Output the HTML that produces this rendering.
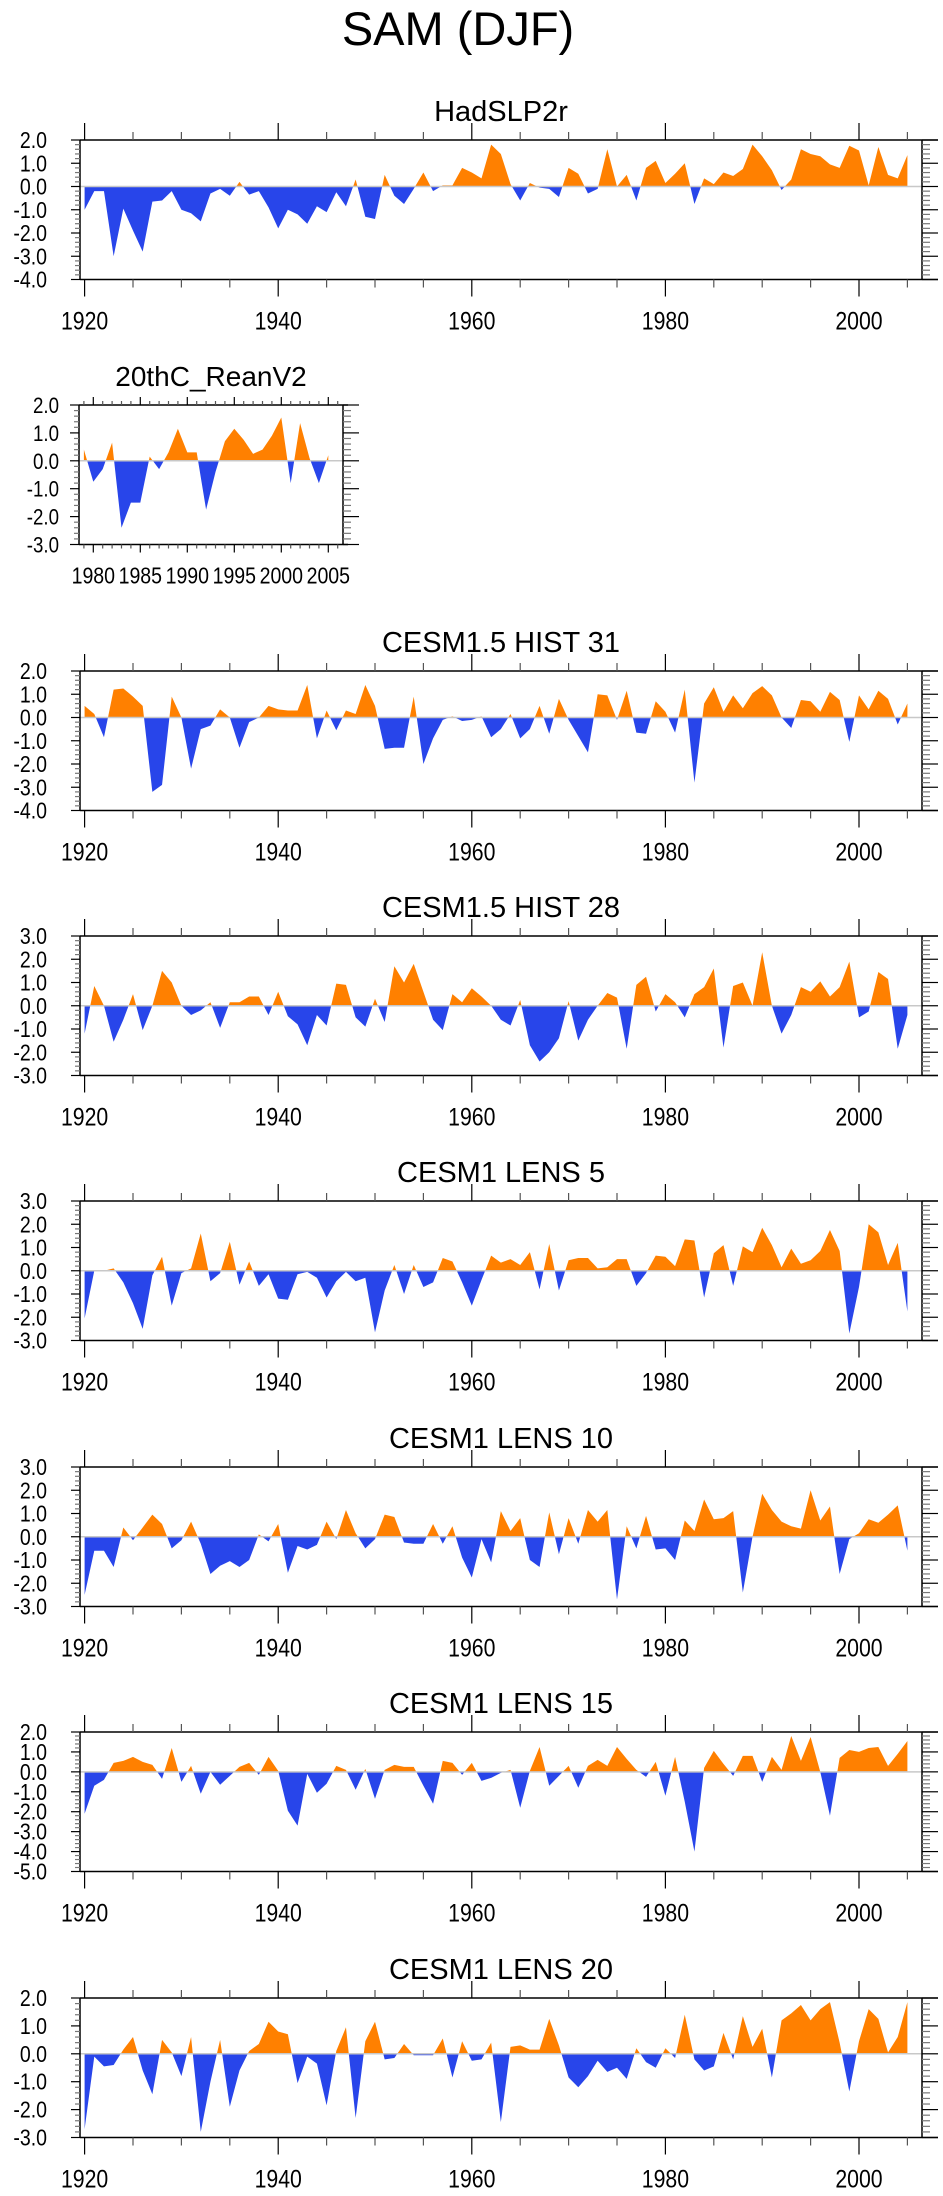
<!DOCTYPE html>
<html><head><meta charset="utf-8"><title>SAM (DJF)</title>
<style>
html,body{margin:0;padding:0;background:#fff;}
svg{display:block;font-family:"Liberation Sans",Arial,sans-serif;}
</style></head>
<body>
<svg id="fig" width="943" height="2196" viewBox="0 0 943 2196" xmlns="http://www.w3.org/2000/svg">
<text x="458" y="45" font-size="47" text-anchor="middle">SAM (DJF)</text>
</svg>
<script>
// ---- data (years start at startYear, one value per year) ----
const fullStartYear = 1920;
const reanStartYear = 1979;
const hadslp2r = [-1.0,-0.2,-0.2,-3.0,-0.95,-1.9,-2.8,-0.65,-0.6,-0.2,-1.0,-1.15,-1.5,-0.3,-0.1,-0.4,0.2,-0.35,-0.2,-0.9,-1.8,-1.0,-1.2,-1.6,-0.85,-1.1,-0.25,-0.85,0.3,-1.3,-1.4,0.5,-0.4,-0.75,-0.1,0.6,-0.2,0.05,0.05,0.8,0.6,0.35,1.8,1.4,0.1,-0.6,0.15,-0.05,-0.1,-0.45,0.8,0.55,-0.3,-0.1,1.6,0.0,0.5,-0.6,0.8,1.1,0.15,0.55,1.0,-0.75,0.35,0.1,0.6,0.45,0.75,1.8,1.3,0.7,-0.15,0.3,1.6,1.4,1.3,0.95,0.8,1.75,1.55,0.05,1.7,0.5,0.35,1.35];
const reanV2 = [0.4,-0.75,-0.3,0.65,-2.4,-1.5,-1.5,0.15,-0.3,0.3,1.15,0.3,0.3,-1.75,-0.4,0.7,1.15,0.75,0.25,0.4,0.9,1.55,-0.8,1.35,0.1,-0.8,0.2];
const hist31 = [0.5,0.15,-0.85,1.2,1.25,0.9,0.5,-3.2,-2.9,0.9,0.0,-2.2,-0.5,-0.35,0.35,0.0,-1.3,-0.2,0.0,0.5,0.35,0.3,0.3,1.4,-0.9,0.3,-0.55,0.3,0.15,1.4,0.5,-1.35,-1.3,-1.3,0.9,-2.0,-0.9,-0.1,0.05,-0.15,-0.1,0.05,-0.85,-0.5,0.15,-0.9,-0.5,0.5,-0.7,0.8,-0.1,-0.8,-1.5,1.0,0.95,-0.1,1.15,-0.65,-0.7,0.7,0.25,-0.65,1.2,-2.8,0.6,1.3,0.25,0.95,0.4,1.05,1.35,0.95,0.0,-0.45,0.75,0.7,0.25,1.1,0.75,-1.05,0.95,0.35,1.15,0.8,-0.3,0.6];
const hist28 = [-1.2,0.85,0.0,-1.55,-0.6,0.5,-1.05,0.0,1.5,1.0,0.0,-0.4,-0.2,0.15,-0.95,0.15,0.15,0.4,0.4,-0.4,0.6,-0.45,-0.8,-1.7,-0.4,-0.85,0.95,0.9,-0.5,-0.9,0.3,-0.7,1.7,1.0,1.8,0.6,-0.6,-1.05,0.5,0.15,0.75,0.4,0.0,-0.6,-0.85,0.25,-1.7,-2.4,-2.0,-1.4,0.2,-1.5,-0.6,0.0,0.55,0.35,-1.85,0.9,1.25,-0.25,0.5,0.15,-0.5,0.5,0.8,1.6,-1.8,0.85,1.0,0.0,2.3,0.0,-1.2,-0.4,0.8,0.6,1.05,0.4,0.8,1.9,-0.5,-0.25,1.45,1.15,-1.85,-0.4];
const lens5 = [-2.05,0.0,0.0,0.1,-0.5,-1.4,-2.5,-0.2,0.6,-1.5,-0.1,0.1,1.6,-0.45,-0.1,1.25,-0.6,0.4,-0.65,-0.15,-1.2,-1.25,-0.15,-0.05,-0.3,-1.15,-0.45,-0.05,-0.45,-0.3,-2.65,-0.85,0.25,-1.0,0.25,-0.7,-0.5,0.55,0.4,-0.5,-1.5,-0.4,0.65,0.35,0.5,0.25,0.8,-0.8,1.15,-0.85,0.45,0.55,0.55,0.1,0.15,0.5,0.5,-0.65,-0.1,0.65,0.6,0.2,1.35,1.3,-1.15,0.75,1.1,-0.65,1.05,0.8,1.85,1.1,0.15,0.95,0.3,0.45,0.85,1.75,0.85,-2.7,-0.7,2.0,1.65,0.25,1.2,-1.75];
const lens10 = [-2.5,-0.6,-0.6,-1.3,0.4,-0.15,0.4,0.95,0.55,-0.5,-0.15,0.65,-0.3,-1.6,-1.25,-1.05,-1.3,-1.0,0.1,-0.2,0.55,-1.55,-0.4,-0.55,-0.35,0.65,-0.1,1.15,0.15,-0.5,-0.1,0.95,0.85,-0.25,-0.3,-0.3,0.55,-0.3,0.45,-0.9,-1.75,-0.1,-1.1,1.1,0.25,0.8,-1.0,-1.3,1.05,-0.75,0.8,-0.3,1.15,0.65,1.15,-2.7,0.45,-0.5,0.9,-0.55,-0.5,-1.0,0.7,0.25,1.6,0.75,0.8,1.1,-2.4,0.0,1.85,1.15,0.65,0.45,0.35,2.0,0.7,1.3,-1.6,-0.1,0.15,0.75,0.6,0.95,1.35,-0.6];
const lens15 = [-2.1,-0.7,-0.4,0.45,0.55,0.75,0.5,0.35,-0.35,1.2,-0.5,0.3,-1.1,0.0,-0.65,-0.2,0.25,0.45,-0.15,0.75,0.05,-1.95,-2.7,-0.1,-1.05,-0.6,0.3,0.1,-0.9,0.15,-1.35,0.1,0.35,0.25,0.25,-0.7,-1.6,0.55,0.45,-0.15,0.45,-0.45,-0.3,-0.05,0.1,-1.8,0.05,1.25,-0.7,-0.2,0.3,-0.8,0.3,0.6,0.3,1.25,0.65,0.1,-0.25,0.5,-1.2,0.75,-1.5,-4.0,0.2,1.05,0.4,-0.2,0.8,0.8,-0.5,0.75,0.1,1.8,0.55,1.75,0.0,-2.2,0.7,1.1,1.0,1.2,1.25,0.3,0.9,1.55];
const lens20 = [-2.7,-0.1,-0.45,-0.4,0.15,0.6,-0.6,-1.45,0.5,0.05,-0.8,0.6,-2.8,-1.0,0.5,-1.9,-0.6,0.1,0.35,1.15,0.8,0.7,-1.05,-0.1,-0.35,-1.85,0.1,0.95,-2.3,0.45,1.15,-0.2,-0.15,0.35,-0.05,-0.05,-0.05,0.55,-0.85,0.45,-0.25,-0.2,0.4,-2.45,0.25,0.3,0.15,0.15,1.25,0.3,-0.85,-1.2,-0.8,-0.25,-0.65,-0.5,-0.9,0.2,-0.3,-0.5,0.2,-0.15,1.4,-0.2,-0.6,-0.45,0.75,-0.2,1.35,0.25,0.9,-0.85,1.2,1.45,1.75,1.2,1.6,1.85,0.4,-1.35,0.45,1.6,1.25,0.05,0.6,1.85];
const panelTitles = ["HadSLP2r","20thC_ReanV2","CESM1.5 HIST 31","CESM1.5 HIST 28","CESM1 LENS 5","CESM1 LENS 10","CESM1 LENS 15","CESM1 LENS 20"];
const fullTickYears = [1920,1940,1960,1980,2000];
const reanTickYears = [1980,1985,1990,1995,2000,2005];

// ---- layout (not data) ----
const svg = document.getElementById('fig');
const NS = 'http://www.w3.org/2000/svg';
function mk(tag, attrs, parent){
  const e = document.createElementNS(NS, tag);
  for (const k in attrs) e.setAttribute(k, attrs[k]);
  (parent||svg).appendChild(e);
  return e;
}
const panels = [
  {series:hadslp2r, start:fullStartYear, top:140, ymax:2, ymin:-4, left:80, right:922, x0:1920, x1:2000, px0:84.6, px1:859, ticks:fullTickYears, minorStep:5, big:true},
  {series:reanV2, start:reanStartYear, top:405, ymax:2, ymin:-3, left:79, right:343, x0:1980, x1:2005, px0:93.3, px1:328.3, ticks:reanTickYears, minorStep:1, big:false},
  {series:hist31, start:fullStartYear, top:671, ymax:2, ymin:-4},
  {series:hist28, start:fullStartYear, top:936, ymax:3, ymin:-3},
  {series:lens5, start:fullStartYear, top:1201, ymax:3, ymin:-3},
  {series:lens10, start:fullStartYear, top:1467, ymax:3, ymin:-3},
  {series:lens15, start:fullStartYear, top:1732, ymax:2, ymin:-5},
  {series:lens20, start:fullStartYear, top:1998, ymax:2, ymin:-3}
];
const H = 139.5;
panels.forEach((p, i) => {
  if (p.left === undefined) Object.assign(p, {left:80, right:922, x0:1920, x1:2000, px0:84.6, px1:859, ticks:fullTickYears, minorStep:5, big:true});
  const g = mk('g', {});
  
  
  const top = p.top, bot = top + H;
  const xs = yr => p.px0 + (yr - p.x0) * (p.px1 - p.px0) / (p.x1 - p.x0);
  const ys = v => top + (p.ymax - v) * H / (p.ymax - p.ymin);
  const zy = ys(0);
  // title
  const t = mk('text', {x:(p.left+p.right)/2, y:top-19, 'font-size':p.big?29:28, 'text-anchor':'middle'}, g);
  t.textContent = panelTitles[i];
  
  
  // fills
  const pts = p.series.map((v, k) => [xs(p.start + k), ys(v)]);
  let d = 'M' + pts[0][0] + ',' + zy;
  pts.forEach(q => { d += ' L' + q[0].toFixed(2) + ',' + q[1].toFixed(2); });
  d += ' L' + pts[pts.length-1][0] + ',' + zy + ' Z';
  const cid = 'c' + i;
  const defs = mk('defs', {}, g);
  const cpA = mk('clipPath', {id:cid+'a'}, defs);
  mk('rect', {x:0, y:top-50, width:943, height:zy-top+50}, cpA);
  const cpB = mk('clipPath', {id:cid+'b'}, defs);
  mk('rect', {x:0, y:zy, width:943, height:bot-zy+50}, cpB);
  const pos = mk('path', {d:d, fill:'#ff8000', 'clip-path':'url(#'+cid+'a)'}, g);
  
  
  const neg = mk('path', {d:d, fill:'#2845ea', 'clip-path':'url(#'+cid+'b)'}, g);
  
  
  // zero line
  const zl = mk('line', {x1:p.left, x2:p.right, y1:zy, y2:zy, stroke:'#c8c8c8', 'stroke-width':1.5}, g);
  
  
  // frame
  const ext = p.big ? 938 : 348;
  mk('line', {x1:p.left, x2:ext, y1:top, y2:top, stroke:'#000', 'stroke-width':1.5}, g);
  mk('line', {x1:p.left, x2:ext, y1:bot, y2:bot, stroke:'#000', 'stroke-width':1.5}, g);
  mk('line', {x1:p.left, x2:p.left, y1:top, y2:bot, stroke:'#000', 'stroke-width':1.5}, g);
  mk('line', {x1:p.right, x2:p.right, y1:top, y2:bot, stroke:'#000', 'stroke-width':1.5}, g);
  // x ticks
  const majL = p.big ? 17 : 8, minL = p.big ? 8 : 4;
  for (let yr = p.x0 - (p.big?0:1); yr <= (p.big?2005:2006); yr += p.minorStep) {
    const x = xs(yr);
    if (x < p.left || x > p.right) continue;
    const major = p.ticks.indexOf(yr) >= 0;
    const L = major ? majL : minL;
    const c = major ? '#000' : '#555';
    mk('line', {x1:x, x2:x, y1:top, y2:top-L, stroke:c, 'stroke-width':1.2}, g);
    mk('line', {x1:x, x2:x, y1:bot, y2:bot+L, stroke:c, 'stroke-width':1.2}, g);
  }
  p.ticks.forEach(yr => {
    const ty = p.big ? bot + 50 : bot + 39;
    const lb = mk('text', {transform:'translate(' + xs(yr) + ',' + ty + ') scale(0.85,1)', 'font-size':p.big?25:23, 'text-anchor':'middle'}, g);
    lb.textContent = yr;
    
    
  });
  // y ticks
  for (let v = p.ymin; v <= p.ymax + 1e-6; v += 0.2) {
    const y = ys(v);
    const major = Math.abs(v - Math.round(v)) < 1e-6;
    const L = major ? 9 : 5;
    const c = major ? '#000' : '#777';
    mk('line', {x1:p.left, x2:p.left-L, y1:y, y2:y, stroke:c, 'stroke-width':1.2}, g);
    mk('line', {x1:p.right, x2:p.right+(major?16:8), y1:y, y2:y, stroke:c, 'stroke-width':1.2}, g);
    if (major) {
      const lx = p.big ? 47 : 59;
      const lb = mk('text', {transform:'translate(' + lx + ',' + (y + 8) + ') scale(0.85,1)', 'font-size':p.big?23:22, 'text-anchor':'end'}, g);
      lb.textContent = Math.round(v).toFixed(1);
      
      
    }
  }
});
</script>
</body></html>
